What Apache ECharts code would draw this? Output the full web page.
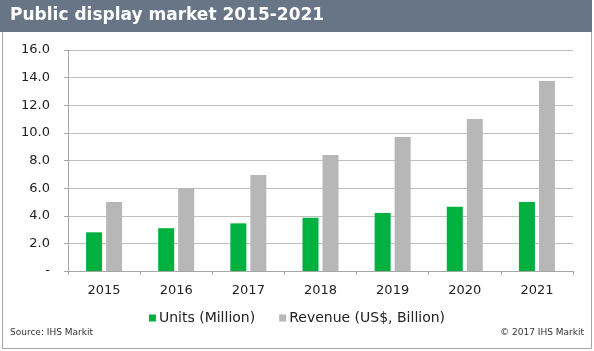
<!DOCTYPE html>
<html>
<head>
<meta charset="utf-8">
<script src="https://cdn.jsdelivr.net/npm/echarts@6/dist/echarts.min.js"></script>
<style>
  html, body { margin: 0; padding: 0; background: #fff; }
  #chart { width: 594px; height: 351px; }
</style>
</head>
<body>
<div id="chart"></div>
<script>
const years = ['2015', '2016', '2017', '2018', '2019', '2020', '2021']
const units = [2.8, 3.1, 3.45, 3.85, 4.2, 4.65, 5.0]
const revenue = [5.0, 6.0, 6.95, 8.4, 9.7, 11.0, 13.75]
const yTicks = ['-', '2.0', '4.0', '6.0', '8.0', '10.0', '12.0', '14.0', '16.0']

const font = 'DejaVu Sans'
const myChart = echarts.init(document.getElementById('chart'))

myChart.setOption({
  animation: false,
  textStyle: { fontFamily: font },
  graphic: [
    // outer frame
    { type: 'rect', shape: { x: 2.5, y: 0.5, width: 589, height: 348 },
      style: { fill: '#fff', stroke: '#a6a6a6', lineWidth: 1 }, z: -10 },
    // title bar
    { type: 'rect', shape: { x: 0, y: 0, width: 592, height: 32 },
      style: { fill: '#677586' }, z: -5 },
    { type: 'text', left: 10, top: 7,
      style: { text: 'Public display market 2015-2021', fill: '#fff',
        font: 'bold 17px "DejaVu Sans"' } },
    { type: 'text', left: 10, top: 328,
      style: { text: 'Source: IHS Markit', fill: '#333', font: '9px "DejaVu Sans"' } },
    { type: 'text', right: 10, top: 328,
      style: { text: '© 2017 IHS Markit', fill: '#333', font: '9px "DejaVu Sans"' } }
  ],
  legend: {
    top: 306,
    left: 'center',
    itemWidth: 7,
    itemHeight: 7,
    itemGap: 24,
    icon: 'rect',
    textStyle: { fontSize: 14, color: '#222', fontFamily: font, padding: [0, 0, 0, -2] }
  },
  grid: { left: 68, right: 21, top: 50, bottom: 80 },
  xAxis: {
    type: 'category',
    data: years,
    axisLine: { lineStyle: { color: '#a6a6a6' } },
    axisTick: { show: true, length: 4, lineStyle: { color: '#a6a6a6' } },
    axisLabel: { fontSize: 13, color: '#222', margin: 13, fontFamily: font }
  },
  yAxis: {
    type: 'value',
    min: 0,
    max: 16,
    interval: 2,
    axisLine: { show: true, lineStyle: { color: '#a6a6a6' } },
    axisTick: { show: true, length: 4, lineStyle: { color: '#a6a6a6' } },
    splitLine: { lineStyle: { color: '#bfbfbf' } },
    axisLabel: {
      fontSize: 13, color: '#222', margin: 18, fontFamily: font,
      formatter: (v) => yTicks[Math.round(v / 2)]
    }
  },
  series: [
    {
      name: 'Units (Million)',
      type: 'bar',
      data: units,
      barWidth: 16,
      barGap: '25%',
      itemStyle: { color: '#00b140' }
    },
    {
      name: 'Revenue (US$, Billion)',
      type: 'bar',
      data: revenue,
      barWidth: 16,
      itemStyle: { color: '#b7b7b7' }
    }
  ]
})
</script>
</body>
</html>
